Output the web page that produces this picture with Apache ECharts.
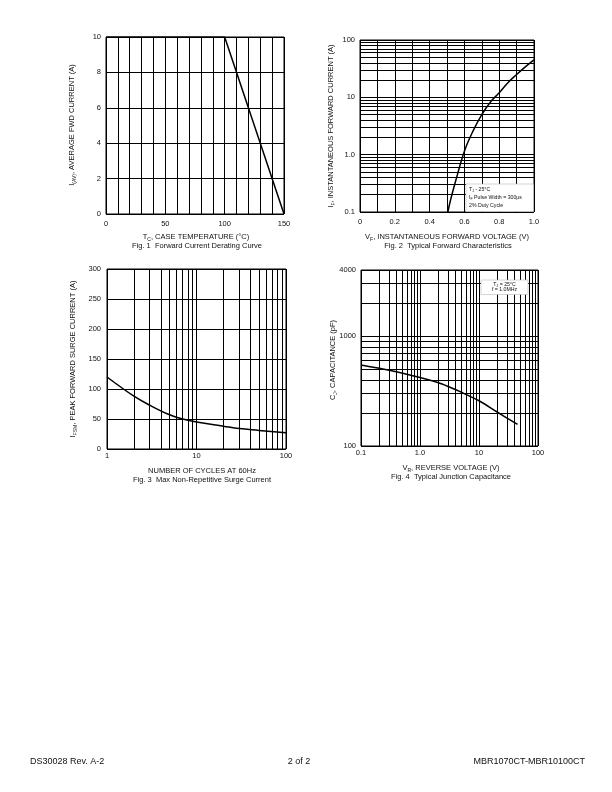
<!DOCTYPE html>
<html><head><meta charset="utf-8">
<script src="https://cdn.jsdelivr.net/npm/echarts@6/dist/echarts.min.js"></script>
<style>html,body{margin:0;padding:0;background:#fff}#c{width:612px;height:792px}</style>
</head><body><div id="c"></div>
<script>
// ---- Fig. 1 Forward Current Derating Curve ----
const fig1Temp = [0, 100, 150];
const fig1Current = [10, 10, 0];
// ---- Fig. 2 Typical Forward Characteristics ----
const fig2Voltage = [0.505, 0.52, 0.55, 0.6, 0.65, 0.7, 0.75, 0.8, 0.85, 0.9, 0.95, 1.0];
const fig2Current = [0.1, 0.16, 0.35, 1.15, 2.6, 5, 8.3, 12, 18, 25, 34, 45];
// ---- Fig. 3 Max Non-Repetitive Surge Current ----
const fig3Cycles = [1, 2, 3, 5, 7, 10, 20, 30, 50, 100];
const fig3Surge = [120, 88, 73, 57, 50, 45, 38, 34, 31, 27];
// ---- Fig. 4 Typical Junction Capacitance ----
const fig4Voltage = [0.1, 0.3, 1, 2, 3, 5, 10, 20, 45];
const fig4Cap = [547, 489, 420, 378, 348, 309, 258, 205, 157];
// ---- log minor grid values ----
const minorTenthsTo100 = [0.2,0.3,0.4,0.5,0.6,0.7,0.8,0.9,2,3,4,5,6,7,8,9,20,30,40,50,60,70,80,90];
const minorOneTo100 = [2,3,4,5,6,7,8,9,20,30,40,50,60,70,80,90];
const minor100To4000 = [200,300,400,500,600,700,800,900,2000,3000];

const FONT = 'Liberation Sans, Arial, sans-serif';
const TXT = '#111';
const GRID_LINE = {show:true, lineStyle:{color:'#000', width:1}};
const fmtLog = v => Math.abs(v-1) < 1e-9 ? '1.0' : String(+Number(v).toPrecision(3));
const fmtPlain = v => String(+Number(v).toPrecision(3));

function minorLines(axisKey, vals){
  return {
    silent:true, symbol:['none','none'], animation:false,
    label:{show:false},
    lineStyle:{color:'#000', width:1, type:'solid'},
    emphasis:{disabled:true},
    data: vals.map(v => ({[axisKey]: v}))
  };
}
const axisLbl = (margin, extra) => Object.assign({color:TXT, fontSize:7.5, fontFamily:FONT, margin:margin}, extra||{});
const curve = {color:'#000', width:1.5};

const chart = echarts.init(document.getElementById('c'), null, {renderer:'canvas'});
const option = {
  animation:false,
  backgroundColor:'#fff',
  grid:[
    {left:106, top:37, width:178, height:177, show:true, borderColor:'#000', borderWidth:1},
    {left:360, top:40, width:174, height:172, show:true, borderColor:'#000', borderWidth:1},
    {left:107, top:269, width:179, height:180, show:true, borderColor:'#000', borderWidth:1},
    {left:361, top:270, width:177, height:176, show:true, borderColor:'#000', borderWidth:1}
  ],
  xAxis:[
    {gridIndex:0, type:'value', min:0, max:150, interval:10,
     axisLine:{show:false}, axisTick:{show:false}, splitLine:GRID_LINE,
     axisLabel:axisLbl(6,{formatter:v => v % 50 === 0 ? String(v) : ''})},
    {gridIndex:1, type:'value', min:0, max:1.0, interval:0.1,
     axisLine:{show:false}, axisTick:{show:false}, splitLine:GRID_LINE,
     axisLabel:axisLbl(6,{formatter:v => {const k=Math.round(v*10); return k%2===0 ? (k===0?'0':(k/10).toFixed(1)) : '';}})},
    {gridIndex:2, type:'log', logBase:10, min:1, max:100,
     axisLine:{show:false}, axisTick:{show:false}, splitLine:GRID_LINE,
     axisLabel:axisLbl(3,{formatter:fmtPlain})},
    {gridIndex:3, type:'log', logBase:10, min:0.1, max:100,
     axisLine:{show:false}, axisTick:{show:false}, splitLine:GRID_LINE,
     axisLabel:axisLbl(3,{formatter:fmtLog})}
  ],
  yAxis:[
    {gridIndex:0, type:'value', min:0, max:10, interval:2,
     axisLine:{show:false}, axisTick:{show:false}, splitLine:GRID_LINE,
     axisLabel:axisLbl(5)},
    {gridIndex:1, type:'log', logBase:10, min:0.1, max:100,
     axisLine:{show:false}, axisTick:{show:false}, splitLine:GRID_LINE,
     axisLabel:axisLbl(5,{formatter:fmtLog})},
    {gridIndex:2, type:'value', min:0, max:300, interval:50,
     axisLine:{show:false}, axisTick:{show:false}, splitLine:GRID_LINE,
     axisLabel:axisLbl(6)},
    {gridIndex:3, type:'log', logBase:10, min:100, max:4000,
     axisLine:{show:false}, axisTick:{show:false}, splitLine:GRID_LINE,
     axisLabel:axisLbl(5,{formatter:fmtPlain})}
  ],
  series:[
    {type:'line', xAxisIndex:0, yAxisIndex:0, symbol:'none', lineStyle:curve,
     data: fig1Temp.map((t,i)=>[t, fig1Current[i]]), z:5},
    {type:'line', xAxisIndex:1, yAxisIndex:1, symbol:'none', lineStyle:curve, smooth:0.4,
     data: fig2Voltage.map((v,i)=>[v, fig2Current[i]]), z:5,
     markLine: minorLines('yAxis', minorTenthsTo100)},
    {type:'line', xAxisIndex:2, yAxisIndex:2, symbol:'none', lineStyle:curve, smooth:0.4,
     data: fig3Cycles.map((c,i)=>[c, fig3Surge[i]]), z:5,
     markLine: minorLines('xAxis', minorOneTo100)},
    {type:'line', xAxisIndex:3, yAxisIndex:3, symbol:'none', lineStyle:curve, smooth:0.3,
     data: fig4Voltage.map((v,i)=>[v, fig4Cap[i]]), z:5,
     markLine: {
       silent:true, symbol:['none','none'], animation:false, label:{show:false},
       lineStyle:{color:'#000', width:1, type:'solid'},
       data: minorTenthsTo100.map(v=>({xAxis:v})).concat(minor100To4000.map(v=>({yAxis:v})))
     }}
  ]
};

function rt(x, y, text, rot, extra){
  return {type:'text', x:x, y:y, rotation:rot||0, z:100,
    style:Object.assign({text:text, align:'center', verticalAlign:'middle',
      fontSize:7.5, fontFamily:FONT, fill:TXT,
      rich:{n:{fontSize:7.5, fontFamily:FONT, fill:TXT, verticalAlign:'middle', lineHeight:10},
            s:{fontSize:5, fontFamily:FONT, fill:TXT, verticalAlign:'bottom', lineHeight:5}}}, extra||{})};
}
function note(x, y, w, h, lines, align){
  const els = [{type:'rect', z:90, shape:{x:x, y:y, width:w, height:h},
    style:{fill:'#fff', stroke:'#bbb', lineWidth:0.6}}];
  lines.forEach((ln, i) => {
    els.push({type:'text', z:100, x: align==='left' ? x+3 : x+w/2, y: y+ln.dy,
      style:{text:ln.t, align: align==='left' ? 'left':'center', verticalAlign:'middle',
        fontSize:5.2, fontFamily:FONT, fill:TXT,
        rich:{n:{fontSize:5.2, fontFamily:FONT, fill:TXT, verticalAlign:'middle', lineHeight:7},
              s:{fontSize:3.6, fontFamily:FONT, fill:TXT, verticalAlign:'bottom', lineHeight:4}}}});
  });
  return els;
}

option.graphic = [].concat(
  [
    rt(72, 125, '{n|I}{s|(AV)}{n|, AVERAGE FWD CURRENT (A)}', Math.PI/2),
    rt(196, 237, '{n|T}{s|C}{n|, CASE TEMPERATURE (°C)}'),
    rt(197, 246, 'Fig. 1  Forward Current Derating Curve'),
    rt(331, 126, '{n|I}{s|F}{n|, INSTANTANEOUS FORWARD CURRENT (A)}', Math.PI/2),
    rt(447, 237, '{n|V}{s|F}{n|, INSTANTANEOUS FORWARD VOLTAGE (V)}'),
    rt(448, 246, 'Fig. 2  Typical Forward Characteristics'),
    rt(73, 359, '{n|I}{s|FSM}{n|, PEAK FORWARD SURGE CURRENT (A)}', Math.PI/2),
    rt(202, 471, 'NUMBER OF CYCLES AT 60Hz'),
    rt(202, 480, 'Fig. 3  Max Non-Repetitive Surge Current'),
    rt(333, 360, '{n|C}{s|J}{n|, CAPACITANCE (pF)}', Math.PI/2),
    rt(451, 468, '{n|V}{s|R}{n|, REVERSE VOLTAGE (V)}'),
    rt(451, 477, 'Fig. 4  Typical Junction Capacitance'),
    {type:'text', x:30, y:762, z:100, style:{text:'DS30028 Rev. A-2', align:'left', verticalAlign:'middle', fontSize:9, fontFamily:FONT, fill:TXT}},
    {type:'text', x:299, y:762, z:100, style:{text:'2 of 2', align:'center', verticalAlign:'middle', fontSize:9, fontFamily:FONT, fill:TXT}},
    {type:'text', x:585, y:762, z:100, style:{text:'MBR1070CT-MBR10100CT', align:'right', verticalAlign:'middle', fontSize:9, fontFamily:FONT, fill:TXT}}
  ],
  note(466, 184, 67.5, 27.5, [
    {t:'{n|T}{s|J}{n| - 25°C}', dy:5.5},
    {t:'{n|I}{s|F}{n| Pulse Width = 300µs}', dy:13.5},
    {t:'{n|2% Duty Cycle}', dy:22}
  ], 'left'),
  note(481, 280, 47, 14.5, [
    {t:'{n|T}{s|J}{n| = 25°C}', dy:4.2},
    {t:'{n|f = 1.0MHz}', dy:10}
  ], 'center')
);

chart.setOption(option);
</script>
</body></html>
